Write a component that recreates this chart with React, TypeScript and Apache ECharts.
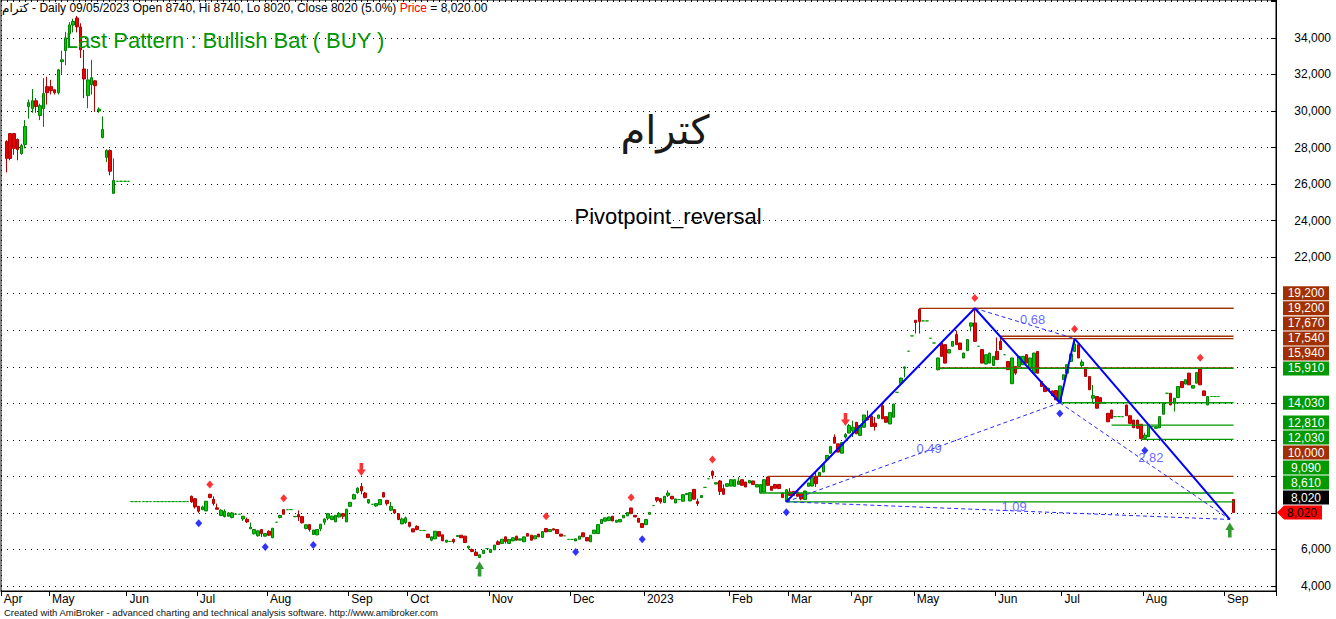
import React, { useEffect, useRef } from 'react';
import * as echarts from 'echarts';

// ---------- axis / calendar ----------
const monthLabels = ['Apr', 'May', 'Jun', 'Jul', 'Aug', 'Sep', 'Oct', 'Nov', 'Dec', '2023', 'Feb', 'Mar', 'Apr', 'May', 'Jun', 'Jul', 'Aug', 'Sep'];
const monthBars = [13, 21, 19, 19, 22, 16, 22, 22, 20, 23, 16, 17, 17, 22, 18, 22, 22, 14];
const yearDividerMonth = 9; // '2023'

// ---------- candles: [open, close, low, high] ----------
const leftStart = 1;
const leftCandles = [
  [28330, 27400, 26640, 28400], [28760, 27400, 27300, 28800], [28760, 27950, 27600, 28800], [28440, 27890, 27300, 28500],
  [27670, 28110, 27600, 28200], [28160, 29150, 27950, 29500], [30240, 30460, 29580, 30620], [30130, 30560, 29900, 31200],
  [30560, 30240, 29900, 30700], [29750, 30290, 29500, 30400], [30130, 30950, 29130, 31800], [31330, 31000, 30350, 31870],
  [31330, 31110, 30900, 31700], [31160, 31000, 30900, 31200], [31000, 32250, 30900, 32300], [32700, 32800, 32000, 33300],
  [33300, 34000, 32500, 34330], [34220, 34710, 33500, 34870], [34700, 34900, 34300, 35050], [35090, 34600, 34300, 35200],
  [34600, 33350, 32900, 34800], [32300, 31750, 30700, 33350], [30840, 31700, 30150, 32300], [31440, 31820, 30900, 32800],
  [31650, 31380, 29950, 31700], [30000, 30100, 29900, 30200], [28550, 28980, 28500, 29700], [27460, 27840, 27200, 27900],
  [27840, 26700, 26480, 27900], [25490, 26200, 25490, 27400],
];
const padAStart = 31;
const padAPrices = [26150, 26150, 26150, 26150];
const padBStart = 35;
const padBPrices = [8620, 8620, 8620, 8620, 8620, 8620, 8620, 8620, 8620, 8620, 8620, 8620, 8620, 8620, 8620, 8620];

const midStart = 51;
const midCandles = [
  [8910, 8600, 8560, 8950], [8780, 8330, 8240, 8800], [8360, 8090, 8000, 8380], [8180, 8330, 8150, 8400],
  [8110, 8640, 8100, 8650], [9020, 8840, 8800, 9050], [8750, 8510, 8400, 8910], [8280, 8200, 8190, 8510],
  [7860, 8150, 7830, 8200], [7800, 8090, 7750, 8200], [7820, 8000, 7800, 8050], [7750, 8000, 7700, 8050],
  [7930, 7940, 7920, 7950], [7930, 7930, 7930, 7930], [7670, 7820, 7560, 7830], [7650, 7510, 7450, 7750],
  [7130, 7220, 7120, 7470], [6860, 7090, 6820, 7100], [6750, 7020, 6700, 7050], [7090, 6870, 6690, 7100],
  [6730, 6870, 6700, 6900], [7000, 6780, 6750, 7050], [6640, 7160, 6620, 7180], [7490, 7490, 7490, 7490],
  [7750, 7860, 7700, 7900], [8180, 7930, 7900, 8200], [8180, 8180, 8180, 8180], [8180, 8180, 8180, 8180],
  [7790, 7810, 7790, 7810], [7910, 7780, 7560, 8140], [7800, 7460, 7420, 7820], [7150, 7350, 7100, 7380],
  [7360, 7090, 6980, 7380], [6820, 7060, 6800, 7080], [6800, 7090, 6780, 7100], [7130, 7380, 7000, 7400],
  [7490, 7670, 7350, 7700], [7710, 7960, 7600, 8000], [7640, 7820, 7600, 7850], [7510, 7870, 7500, 7880],
  [7780, 7960, 7750, 8050], [7960, 7820, 7670, 8000], [7510, 8200, 7500, 8220], [8360, 8580, 8350, 8600],
  [8760, 9000, 8750, 9050], [9110, 9360, 9050, 9400], [9450, 9200, 9020, 9640], [9090, 8840, 8800, 9150],
  [8550, 8730, 8500, 8750], [8470, 8470, 8470, 8470], [8380, 8510, 8330, 8520], [8450, 8730, 8440, 8740],
  [9110, 8870, 8850, 9150], [8690, 8510, 8400, 8700], [8150, 8360, 8100, 8600], [8180, 8000, 7950, 8200],
  [7960, 7640, 7600, 7970], [7400, 7670, 7380, 7750], [7470, 7730, 7400, 7800], [7490, 7270, 7200, 7500],
  [7130, 6960, 6950, 7140], [7270, 7090, 7050, 7320], [7040, 7040, 7040, 7040], [7040, 7040, 7040, 7040],
  [6840, 6650, 6640, 6850], [6510, 6690, 6450, 6700], [6580, 7000, 6570, 7010], [6980, 6730, 6700, 7000],
  [6800, 6470, 6460, 6810], [6400, 6510, 6390, 6520], [6440, 6440, 6440, 6440], [6550, 6420, 6330, 6600],
  [6710, 6760, 6700, 6770], [6780, 6640, 6630, 6790], [6730, 6380, 6370, 6740], [6090, 6180, 6000, 6200],
  [6000, 5890, 5850, 6050], [5850, 5670, 5650, 5950], [5560, 5710, 5550, 5720], [5780, 5960, 5770, 5970],
  [6050, 6050, 6050, 6050], [5840, 6000, 5830, 6010], [5980, 6240, 5970, 6250], [6420, 6270, 6250, 6500],
  [6330, 6560, 6320, 6570], [6690, 6440, 6320, 6700], [6330, 6550, 6320, 6560], [6470, 6640, 6460, 6650],
  [6730, 6510, 6500, 6740], [6510, 6580, 6500, 6590], [6420, 6690, 6410, 6700], [6870, 6730, 6720, 6880],
  [6780, 6510, 6500, 6790], [6580, 6750, 6570, 6760], [6840, 6690, 6680, 6850], [6660, 6980, 6650, 6990],
  [7150, 6960, 6950, 7160], [6980, 7090, 6970, 7100], [7130, 7060, 7050, 7140], [7090, 6870, 6860, 7100],
  [6840, 6730, 6720, 6850], [6750, 6750, 6750, 6750], [6550, 6550, 6550, 6550], [6550, 6550, 6550, 6550],
  [6470, 6580, 6460, 6590], [6560, 6730, 6550, 6740], [6910, 6690, 6680, 6920], [6650, 6470, 6460, 6660],
  [6420, 6780, 6410, 6790], [6870, 7060, 6860, 7070], [6870, 7360, 6860, 7370], [7420, 7640, 7410, 7650],
  [7550, 7730, 7540, 7740], [7580, 7780, 7570, 7790], [7820, 7560, 7550, 7830], [7490, 7600, 7480, 7610],
  [7510, 7640, 7500, 7650], [7730, 7870, 7720, 7880], [7840, 8020, 7830, 8030], [8270, 7960, 7950, 8280],
  [7870, 7780, 7770, 7880], [7710, 7490, 7480, 7720], [7420, 7200, 7190, 7430], [7360, 7640, 7350, 7650],
];

const riseStart = 175;
const riseCandles = [
  [7930, 8020, 7900, 8060], [8400, 8400, 8400, 8400], [8840, 8690, 8580, 8850], [8780, 8600, 8510, 8800],
  [8565, 8910, 8550, 8920], [8965, 9090, 8870, 9240], [8910, 8765, 8750, 8920], [8545, 8765, 8540, 8770],
  [8730, 8730, 8730, 8730], [8640, 9000, 8630, 9010], [9000, 9060, 8990, 9070], [8655, 9110, 8650, 9120],
  [9290, 8750, 8740, 9300], [8620, 8510, 8380, 8780], [8840, 8950, 8830, 8960], [9400, 9400, 9400, 9400],
  [9870, 9870, 9870, 9870], [10270, 10060, 9870, 10330], [9580, 9655, 9570, 9660], [9750, 9180, 8980, 9800],
  [9330, 9020, 9010, 9560], [9455, 9600, 9450, 9610], [9470, 9820, 9460, 9830], [9455, 9820, 9450, 9830],
  [9560, 9750, 9550, 9960], [9820, 9510, 9500, 9830], [9690, 9420, 9410, 9700], [9640, 9780, 9630, 9790],
  [9750, 9550, 9540, 9760], [9420, 9560, 9410, 9570], [9090, 9550, 9080, 9560], [9140, 9820, 9130, 9830],
  [9960, 9510, 9500, 10000], [9455, 9240, 9230, 9460], [9560, 9350, 9340, 9570], [9560, 9330, 9320, 9570],
  [9090, 8840, 8830, 9100], [8620, 9270, 8610, 9280], [9150, 8960, 8950, 9360], [9180, 8960, 8950, 9190],
  [9150, 8910, 8900, 9160], [9055, 8765, 8690, 9060], [8730, 9200, 8720, 9210], [9455, 9640, 9450, 9650],
  [9470, 9930, 9460, 9940], [9960, 9600, 9420, 10240], [10000, 10220, 9990, 10230], [10240, 10660, 10230, 10670],
  [10910, 11150, 10900, 11160], [11270, 11640, 11260, 11650], [12150, 11820, 11810, 12300], [11780, 11330, 11320, 11790],
  [11270, 11850, 11260, 11860], [12150, 12290, 12070, 12370], [12370, 12780, 12360, 12870], [12500, 12690, 12150, 13050],
  [12960, 12330, 12320, 12970], [12240, 12780, 12230, 12790], [12690, 13360, 12680, 13370], [13240, 13090, 13080, 13600],
  [13310, 12730, 12720, 13320], [12910, 12730, 12510, 13240], [13180, 13360, 13170, 13370], [13870, 13150, 13140, 14040],
  [13270, 12960, 12950, 13280], [12870, 13490, 12860, 13500], [13240, 13960, 13230, 13970], [14600, 14600, 14600, 14600],
  [15090, 15380, 15080, 15390], [15920, 15990, 15420, 16000], [16850, 16850, 16850, 16850], [17690, 17690, 17690, 17690],
  [18545, 18420, 17820, 18545], [19145, 18470, 17820, 19200], [18510, 18510, 18510, 18510], [18510, 18510, 18510, 18510],
  [17560, 17560, 17560, 17560], [17300, 17300, 17300, 17300],
];

const patternStart = 253;
const patternCandles = [
  [15835, 16480, 15800, 16500], [17300, 16570, 16550, 17320], [17210, 16200, 16180, 17220], [16750, 16940, 16740, 16950],
  [17120, 17390, 17110, 17400], [17760, 17210, 17200, 17980], [17300, 16940, 16930, 17310], [16480, 16750, 16470, 16760],
  [16880, 17490, 16870, 17500], [18220, 18400, 17950, 18410], [18400, 17390, 17380, 19200], [17120, 17120, 17120, 17120],
  [16940, 16200, 16190, 16950], [16150, 16660, 16140, 16670], [16200, 16750, 16190, 16760], [16070, 16570, 16060, 16580],
  [16840, 16390, 16380, 17600], [17390, 16940, 16930, 17580], [16660, 16660, 16660, 16660], [16290, 15840, 15830, 16300],
  [15070, 16480, 15060, 16490], [16020, 15650, 15560, 16030], [16020, 16570, 16010, 16580], [16110, 16570, 16100, 16580],
  [16660, 16200, 16190, 16670], [15930, 16480, 15920, 16490], [15650, 16750, 15640, 16760], [16840, 15650, 15640, 16850],
  [15190, 14920, 14910, 15200], [14920, 14640, 14630, 14930], [14680, 14830, 14670, 14840], [14680, 14420, 14410, 14690],
  [14700, 14190, 14180, 14710], [14030, 14950, 14030, 14960], [15290, 15560, 15280, 15570], [15650, 16110, 15640, 16120],
  [16290, 16700, 16280, 16710], [16840, 17250, 16830, 17540], [17210, 16480, 16470, 17220], [16070, 16260, 15900, 16400],
  [15960, 15470, 15460, 15970], [15470, 14740, 14730, 15480], [14280, 14420, 14000, 15000], [14370, 13730, 13720, 14380],
  [14310, 14000, 13990, 14320], [14000, 14050, 13990, 14060], [13450, 12990, 12980, 13460], [13630, 13180, 13170, 13640],
  [13270, 13270, 13270, 13270], [13270, 13270, 13270, 13270], [13270, 13270, 13270, 13270], [13910, 13320, 13310, 13920],
  [13320, 12900, 12890, 13330], [13080, 12660, 12650, 13090], [13080, 12630, 12620, 13090], [12850, 12080, 12030, 12860],
  [12080, 12260, 11990, 12390], [12170, 12810, 12160, 12820], [12720, 12720, 12720, 12720], [12630, 12720, 12620, 12730],
  [12660, 13270, 12650, 13280], [13400, 14000, 13390, 14010], [14550, 14550, 14550, 14550], [14550, 13910, 13900, 14560],
  [14000, 14280, 13550, 14290], [14310, 14920, 14300, 14930], [15190, 14860, 14850, 15200], [15050, 15290, 15040, 15300],
  [15650, 15010, 15000, 15660], [14830, 14970, 14820, 14980], [15100, 15690, 15090, 15700], [15890, 15010, 15000, 15930],
  [14680, 14420, 14410, 14690], [13910, 14370, 13900, 14380],
];
const padCStart = 327;
const padCPrices = [14370, 14370, 14370];
const lastBarIndex = 333;
const lastCandle = [8740, 8020, 8020, 8740];

// ---------- Bullish Bat pattern points [bar, price] ----------
const ptX = [212, 8610];
const ptA = [263, 19200];
const ptB = [286, 14030];
const ptC = [290, 17540];
const ptD = [332, 7642];

// ---------- horizontal levels [price, start bar, kind] ----------
const levelPrices = [19200, 19200, 17670, 17540, 15940, 15910, 14030, 12810, 12030, 10000, 9090, 8610];
const levelStarts = [248, 263, 270, 270, 253, 253, 286, 300, 308, 207, 205, 212];
const levelKinds = ['r', 'r', 'r', 'r', 'r', 's', 's', 's', 's', 'r', 's', 's'];
const lastClose = 8020;

// ---------- markers [bar, price] ----------
const redDiamonds = [[56, 9560], [76, 8800], [147, 7820], [170, 8850], [192, 10930], [263, 19760], [290, 18070], [324, 16490]];
const blueDiamonds = [[53, 7440], [71, 6130], [84, 6240], [155, 5860], [173, 6560], [212, 8040], [286, 13440], [309, 11420]];
const sellArrows = [[97, 10380], [228, 13110]];
const buyArrows = [[129, 4930], [332, 7060]];

const BROWN = '#a03000';
const GREEN = '#009900';
const FONT = '"Liberation Sans", Arial, sans-serif';

const App = () => {
  const ref = useRef<HTMLDivElement>(null);
  useEffect(() => {
    const el = ref.current as HTMLDivElement;
    const chart = echarts.init(el, null, { renderer: 'svg' });

    const categories: string[] = [];
    const monthStart = new Map<number, string>();
    let janIndex = 0;
    monthLabels.forEach((m, mi) => {
      monthStart.set(categories.length, m);
      if (mi === yearDividerMonth) janIndex = categories.length;
      for (let k = 0; k < monthBars[mi]; k++) categories.push(`m${mi}d${k}`);
    });

    const candleData: any[] = [];
    for (let i = 0; i <= lastBarIndex; i++) candleData.push(['-', '-', '-', '-']);
    const place = (start: number, rows: number[][]) => rows.forEach((r, i) => { candleData[start + i] = r; });
    const flat = (ps: number[]) => ps.map((p) => [p, p, p, p]);
    place(leftStart, leftCandles);
    place(padAStart, flat(padAPrices));
    place(padBStart, flat(padBPrices));
    place(midStart, midCandles);
    place(riseStart, riseCandles);
    place(patternStart, patternCandles);
    place(padCStart, flat(padCPrices));
    place(lastBarIndex, [lastCandle]);

    const levelSeries = levelPrices.map((p, i) => ({
      type: 'line',
      data: [[levelStarts[i], p], [lastBarIndex, p]],
      symbol: 'none',
      lineStyle: { color: levelKinds[i] === 'r' ? BROWN : GREEN, width: 1.3 },
      z: 3,
      silent: true,
    }));

    const dashed = (p1: number[], p2: number[]) => ({
      type: 'line',
      data: [p1, p2],
      symbol: 'none',
      lineStyle: { color: '#2a2aff', width: 1, type: [4, 3] },
      z: 4,
      silent: true,
    });
    const r2 = (v: number) => v.toFixed(2);
    const ratios = [
      { a: ptX, b: ptB, t: r2((ptA[1] - ptB[1]) / (ptA[1] - ptX[1])) },
      { a: ptA, b: ptC, t: r2((ptC[1] - ptB[1]) / (ptA[1] - ptB[1])) },
      { a: ptB, b: ptD, t: r2((ptC[1] - ptD[1]) / (ptC[1] - ptB[1])) },
      { a: ptX, b: ptD, t: r2((ptA[1] - ptD[1]) / (ptA[1] - ptX[1])) },
    ];

    const yLabelFormatter = (hidden: Set<number>) => (v: number) =>
      v % 2000 === 0 && v >= 4000 && v <= 34000 && !hidden.has(v) ? v.toLocaleString('en-US') : '';

    const option: any = {
      animation: false,
      backgroundColor: '#ffffff',
      grid: { left: 1, right: 60, top: -2, bottom: 28, show: true, borderColor: '#000', borderWidth: 1, backgroundColor: 'transparent' },
      xAxis: {
        type: 'category',
        data: categories,
        boundaryGap: true,
        axisLine: { lineStyle: { color: '#000', width: 1 } },
        axisTick: { show: true, interval: (i: number) => monthStart.has(i), length: 5, lineStyle: { color: '#000' } },
        axisLabel: {
          interval: (i: number) => monthStart.has(i),
          formatter: (_v: string, i: number) => monthStart.get(i) || '',
          align: 'left',
          margin: 2,
          padding: [0, 0, 0, 1],
          fontSize: 12,
          color: '#000',
          fontFamily: FONT,
        },
        splitLine: { show: true, interval: (i: number) => i === janIndex, lineStyle: { color: '#000', type: [1, 4], width: 1 } },
      },
      yAxis: {
        type: 'value',
        position: 'right',
        min: 3727,
        max: 36073,
        splitNumber: 16,
        minInterval: 2000,
        maxInterval: 2000,
        axisLine: { show: true, lineStyle: { color: '#000' } },
        axisTick: { show: true, inside: true, length: 5, lineStyle: { color: '#000' } },
        axisLabel: {
          formatter: yLabelFormatter(new Set<number>()),
          align: 'right',
          margin: 55,
          fontSize: 12,
          color: '#000',
          fontFamily: FONT,
        },
        splitLine: { show: true, lineStyle: { color: '#000', type: [1, 5], width: 1 } },
      },
      series: [
        {
          type: 'candlestick',
          data: candleData,
          barWidth: 3,
          itemStyle: {
            color: '#00cc00',
            color0: '#ee0000',
            borderColor: '#008000',
            borderColor0: '#b00000',
            borderColorDoji: '#00a000',
            borderWidth: 1,
          },
          z: 2,
          silent: true,
        },
        ...levelSeries,
        {
          type: 'line',
          data: [ptX, ptA, ptB, ptC, ptD],
          symbol: 'none',
          lineStyle: { color: '#0000ff', width: 2 },
          z: 5,
          silent: true,
        },
        ...ratios.map((r) => dashed(r.a, r.b)),
        {
          type: 'scatter',
          data: ratios.map((r) => [(r.a[0] + r.b[0]) / 2, (r.a[1] + r.b[1]) / 2, r.t]),
          symbolSize: 0.1,
          itemStyle: { color: 'transparent' },
          label: {
            show: true,
            position: 'inside',
            offset: [6, -4],
            formatter: (p: any) => p.data[2],
            fontSize: 13,
            color: '#4040ff',
            fontFamily: FONT,
          },
          z: 6,
          silent: true,
        },
        { type: 'scatter', data: redDiamonds, symbol: 'diamond', symbolSize: [7, 8], itemStyle: { color: '#ff0000' }, z: 6, silent: true },
        { type: 'scatter', data: blueDiamonds, symbol: 'diamond', symbolSize: [7, 8], itemStyle: { color: '#0000ff' }, z: 6, silent: true },
        {
          type: 'scatter',
          data: sellArrows,
          symbol: 'path://M3,0 L7,0 L7,7 L10,7 L5,14 L0,7 L3,7 Z',
          symbolSize: [9, 13],
          itemStyle: { color: '#ff0000' },
          z: 6,
          silent: true,
        },
        {
          type: 'scatter',
          data: buyArrows,
          symbol: 'path://M5,0 L10,7 L7,7 L7,14 L3,14 L3,7 L0,7 Z',
          symbolSize: [9, 15],
          itemStyle: { color: '#008000' },
          z: 6,
          silent: true,
        },
      ],
    };
    chart.setOption(option);

    // price tags on the right, stacked bottom-up like AmiBroker
    const tagDefs: { v: number; bg: string; fg: string; arrow?: boolean }[] = [
      { v: lastClose, bg: '#ff0000', fg: '#000000', arrow: true },
      { v: lastClose, bg: '#000000', fg: '#ffffff' },
    ];
    const order = levelPrices.map((p, i) => ({ p, k: levelKinds[i] })).sort((a, b) => a.p - b.p);
    order.forEach((o) => tagDefs.push({ v: o.p, bg: o.k === 'r' ? BROWN : GREEN, fg: '#ffffff' }));

    const graphics: any[] = [];
    const tagYs: number[] = [];
    let prevY = Infinity;
    tagDefs.forEach((t) => {
      const trueY = chart.convertToPixel({ yAxisIndex: 0 }, t.v) as number;
      const y = Math.min(trueY, prevY - 15);
      prevY = y;
      tagYs.push(y);
      const txt = t.v.toLocaleString('en-US');
      if (t.arrow) {
        graphics.push({
          type: 'polygon',
          shape: { points: [[1277, y], [1284, y - 7], [1322, y - 7], [1322, y + 7], [1284, y + 7]] },
          style: { fill: t.bg },
          z: 100,
        });
        graphics.push({
          type: 'text', x: 1302, y, z: 101,
          style: { text: txt, fill: t.fg, font: `12px ${FONT}`, textAlign: 'center', textVerticalAlign: 'middle' },
        });
      } else {
        graphics.push({ type: 'rect', shape: { x: 1283, y: y - 7, width: 46, height: 14 }, style: { fill: t.bg }, z: 100 });
        graphics.push({
          type: 'text', x: 1306, y, z: 101,
          style: { text: txt, fill: t.fg, font: `12px ${FONT}`, textAlign: 'center', textVerticalAlign: 'middle' },
        });
      }
    });

    // axis labels that sit under a tag are covered, as in the reference
    const hidden = new Set<number>();
    for (let v = 4000; v <= 34000; v += 2000) {
      const py = chart.convertToPixel({ yAxisIndex: 0 }, v) as number;
      if (tagYs.some((ty) => Math.abs(ty - py) < 13)) hidden.add(v);
    }

    graphics.push({
      type: 'text', x: 2, y: 8, z: 110,
      style: {
        text: '{ar|كترام}{t| - Daily 09/05/2023 Open 8740, Hi 8740, Lo 8020, Close 8020 (5.0%) }{r|Price}{t| = 8,020.00}',
        textVerticalAlign: 'middle',
        rich: {
          ar: { fontSize: 12, fontFamily: 'DejaVu Sans', fill: '#000' },
          t: { fontSize: 12, fontFamily: 'Liberation Sans', fill: '#000' },
          r: { fontSize: 12, fontFamily: 'Liberation Sans', fill: '#ff0000' },
        },
      },
    });
    graphics.push({
      type: 'text', x: 225, y: 40, z: 110,
      style: { text: 'Last Pattern : Bullish Bat ( BUY )', fill: '#009600', font: `22px ${FONT}`, textAlign: 'center', textVerticalAlign: 'middle' },
    });
    graphics.push({
      type: 'text', x: 665, y: 130, z: 110,
      style: { text: 'كترام', fill: '#1a1a1a', font: '40px "DejaVu Sans", sans-serif', textAlign: 'center', textVerticalAlign: 'middle' },
    });
    graphics.push({
      type: 'text', x: 668, y: 216, z: 110,
      style: { text: 'Pivotpoint_reversal', fill: '#000', font: `22px ${FONT}`, textAlign: 'center', textVerticalAlign: 'middle' },
    });
    graphics.push({
      type: 'text', x: 4, y: 612, z: 110,
      style: { text: 'Created with AmiBroker - advanced charting and technical analysis software. http://www.amibroker.com', fill: '#111', font: `9.5px ${FONT}`, textVerticalAlign: 'middle' },
    });
    chart.setOption({ graphic: graphics, yAxis: { axisLabel: { formatter: yLabelFormatter(hidden) } } });

    return () => chart.dispose();
  }, []);
  return <div ref={ref} style={{ position: 'absolute', left: 0, top: 0, width: 1336, height: 619, background: '#fff' }} />;
};

export default App;
